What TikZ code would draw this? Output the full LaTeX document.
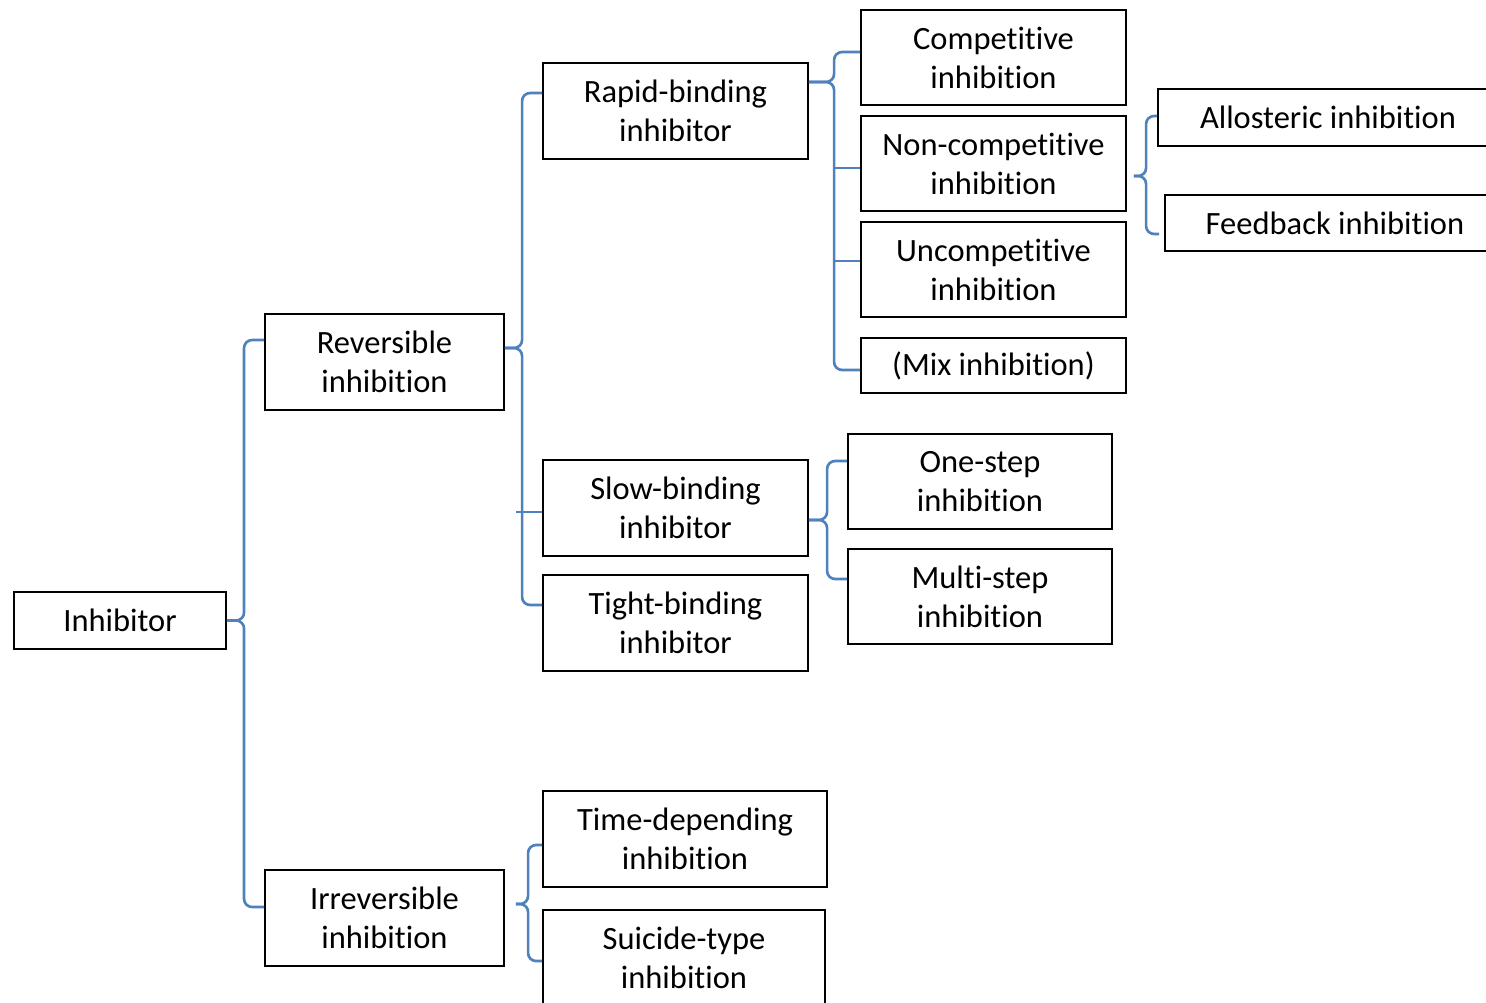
\documentclass[tikz,border=0pt]{standalone}
\usepackage{fontspec}
\setmainfont{Carlito}[Ligatures=NoCommon]
\definecolor{braceblue}{RGB}{79,129,189}
\begin{document}
\begin{tikzpicture}[x=0.02cm,y=-0.02cm,
  font=\fontsize{18.5}{22.2}\selectfont,
  box/.style={draw,line width=1.1pt,align=center,inner sep=0pt,minimum height=96*0.2mm},
  brace/.style={draw=braceblue,line width=1.5pt,rounded corners=1.6mm}]
\useasboundingbox (0,0) rectangle (1486,1003);
\begin{scope}
\clip (0,0) rectangle (1486,1003);
% boxes
\node[box,minimum width=212*0.2mm,minimum height=57*0.2mm] (inh) at (120,620.5) {Inhibitor};
\node[box,minimum width=239*0.2mm] (rev) at (384.5,362) {Reversible\\inhibition};
\node[box,minimum width=239*0.2mm] (irr) at (384.5,918) {Irreversible\\inhibition};
\node[box,minimum width=265*0.2mm] (rapid) at (675.5,111) {Rapid-binding\\inhibitor};
\node[box,minimum width=265*0.2mm] (slow) at (675.5,508) {Slow-binding\\inhibitor};
\node[box,minimum width=265*0.2mm] (tight) at (675.5,623) {Tight-binding\\inhibitor};
\node[box,minimum width=284*0.2mm] (time) at (685,839) {Time-depending\\inhibition};
\node[box,minimum width=282*0.2mm] (suicide) at (684,958) {Suicide-type\\inhibition};
\node[box,minimum width=265*0.2mm,minimum height=95*0.2mm] (comp) at (993.5,57.5) {Competitive\\inhibition};
\node[box,minimum width=265*0.2mm,minimum height=95*0.2mm] (noncomp) at (993.5,163.5) {Non-competitive\\inhibition};
\node[box,minimum width=265*0.2mm,minimum height=95*0.2mm] (uncomp) at (993.5,269.5) {Uncompetitive\\inhibition};
\node[box,minimum width=265*0.2mm,minimum height=55*0.2mm] (mix) at (993.5,365.5) {(Mix inhibition)};
\node[box,minimum width=340*0.2mm,minimum height=57*0.2mm] (allo) at (1328,117.5) {Allosteric inhibition};
\node[box,minimum width=340*0.2mm,minimum height=56*0.2mm] (feed) at (1335,223) {Feedback inhibition};
\node[box,minimum width=264*0.2mm,minimum height=95*0.2mm] (one) at (980,481.5) {One-step\\inhibition};
\node[box,minimum width=264*0.2mm,minimum height=95*0.2mm] (multi) at (980,596.5) {Multi-step\\inhibition};
% braces
\draw[brace] (inh.east) -| ([xshift=-4mm,yshift=4.4mm]rev.west) -- ([yshift=4.4mm]rev.west);
\draw[brace] (inh.east) -| ([xshift=-4mm,yshift=2.2mm]irr.west) -- ([yshift=2.2mm]irr.west);
\draw[brace] ([yshift=2.8mm]rev.east) -| ([xshift=-4mm,yshift=3.6mm]rapid.west) -- ([yshift=3.6mm]rapid.west);
\draw[brace] ([yshift=2.8mm]rev.east) -| ([xshift=-4mm,yshift=3.6mm]tight.west) -- ([yshift=3.6mm]tight.west);
\draw[brace] ([yshift=-0.8mm]slow.west) -- ++(-5.2mm,0);
\draw[brace] ([yshift=5.8mm]rapid.east) -| ([xshift=-5.2mm,yshift=1.1mm]comp.west) -- ([yshift=1.1mm]comp.west);
\draw[brace] ([yshift=5.8mm]rapid.east) -| ([xshift=-5.2mm,yshift=-0.9mm]mix.west) -- ([yshift=-0.9mm]mix.west);
\draw[brace] ([yshift=-0.9mm]noncomp.west) -- ++(-5.2mm,0);
\draw[brace] ([yshift=1.7mm]uncomp.west) -- ++(-5.2mm,0);
\draw[brace] ([xshift=1.4mm,yshift=-2.5mm]noncomp.east) -| ([xshift=-2.2mm,yshift=0.3mm]allo.west) -- ([yshift=0.3mm]allo.west);
\draw[brace] ([xshift=1.4mm,yshift=-2.5mm]noncomp.east) -| ([xshift=-3.6mm,yshift=-2.2mm]feed.west) -- ([xshift=-1mm,yshift=-2.2mm]feed.west);
\draw[brace] ([yshift=-2.4mm]slow.east) -| ([xshift=-4mm,yshift=4.1mm]one.west) -- ([yshift=4.1mm]one.west);
\draw[brace] ([yshift=-2.4mm]slow.east) -| ([xshift=-4mm,yshift=3.5mm]multi.west) -- ([yshift=3.5mm]multi.west);
\draw[brace] ([xshift=2.2mm,yshift=2.8mm]irr.east) -| ([xshift=-2.8mm,yshift=-1.2mm]time.west) -- ([yshift=-1.2mm]time.west);
\draw[brace] ([xshift=2.2mm,yshift=2.8mm]irr.east) -| ([xshift=-2.8mm,yshift=-10.4mm]suicide.north west) -- ([yshift=-10.4mm]suicide.north west);
\end{scope}
\end{tikzpicture}
\end{document}
